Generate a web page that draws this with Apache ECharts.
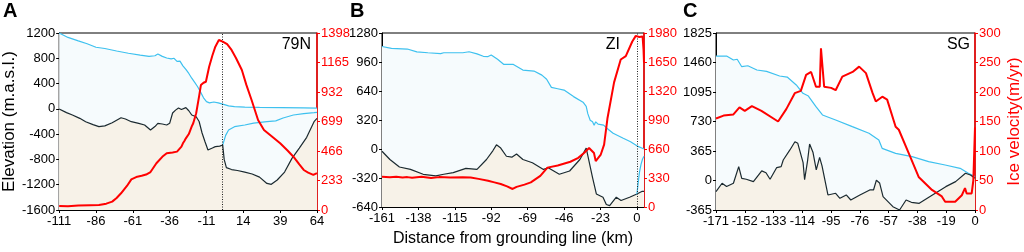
<!DOCTYPE html>
<html>
<head>
<meta charset="utf-8">
<script src="https://cdn.jsdelivr.net/npm/echarts@6/dist/echarts.min.js"></script>
<style>
  html, body { margin: 0; padding: 0; background: #fff; }
  #chart { width: 1024px; height: 252px; }
</style>
</head>
<body>
<div id="chart"></div>
<script>
// distance (km) / value pairs
const surfA = [[-111,1200],[-105,1130],[-98,1075],[-92,1030],[-86,975],[-80,955],[-72,915],[-64,880],[-56,850],[-50,830],[-46,840],[-44,868],[-41,830],[-38,805],[-35,790],[-33,800],[-31,750],[-29,755],[-27,680],[-25,625],[-23,560],[-21,485],[-19,420],[-17,350],[-15,265],[-13,175],[-11,115],[-9,95],[-6,108],[-3,95],[0,75],[4,48],[8,35],[15,28],[25,24],[40,20],[55,15],[64,12]];
const lowA = [[0,-572],[2,-420],[4,-335],[8,-282],[15,-255],[21,-225],[30,-203],[36,-190],[41,-145],[48,-97],[55,-75],[62,-60],[64,-55]];
const bedA = [[-111,-2],[-106,-60],[-102,-97],[-97,-150],[-93,-203],[-88,-250],[-84,-282],[-80,-270],[-75,-220],[-69,-140],[-66,-160],[-62,-203],[-57,-230],[-53,-255],[-49,-335],[-46,-280],[-44,-229],[-41,-240],[-38,-255],[-36,-229],[-34,-66],[-32,-20],[-30,13],[-28,-10],[-27,-18],[-25,20],[-23,-30],[-21,-97],[-18,-124],[-16,-200],[-14,-382],[-12,-520],[-10,-651],[-7,-620],[-5,-598],[-2,-590],[0,-572],[1,-800],[2.5,-930],[6,-960],[10,-975],[15,-1000],[20,-1030],[25,-1080],[30,-1180],[33,-1194],[37,-1125],[42,-1000],[47,-783],[52,-620],[57,-450],[62,-203],[64,-150]];
const velA = [[-111,32],[-105,30],[-98,35],[-90,38],[-84,40],[-79,50],[-75,66],[-72,95],[-69,132],[-65,190],[-62,242],[-58,263],[-55,270],[-52,280],[-49,300],[-45,369],[-41,420],[-38,448],[-34,455],[-31,461],[-28,500],[-27,527],[-26,545],[-25,566],[-23,600],[-21,660],[-20,685],[-18,764],[-16,900],[-14.8,987],[-13,1005],[-11.4,1013],[-9.2,1132],[-7,1220],[-5,1290],[-2.6,1343],[0,1330],[3,1310],[6,1264],[9,1200],[13,1106],[16,990],[19.6,869],[24,711],[28,632],[33,585],[39,527],[44,470],[48,421],[52,360],[55,316],[58,295],[61.5,277],[64,292]];

const surfB = [[-161,1131],[-155,1110],[-145,1103],[-139,1071],[-132,1062],[-124,1052],[-122,1062],[-110,1062],[-106,1073],[-101,1050],[-97,1023],[-94,1020],[-92,1037],[-88,990],[-84,933],[-78,933],[-72,871],[-65,860],[-60,815],[-57,770],[-54,680],[-50,665],[-46,650],[-40,578],[-34,517],[-32,470],[-31,390],[-29.5,318],[-28,300],[-27,263],[-26,300],[-24.5,275],[-21,263],[-18,215],[-15,173],[-8.6,118],[-4,80],[0,35],[4.5,0]];
const lowB = [[0,-500],[0.8,-380],[1.6,-260],[2.6,-170],[3.6,-110],[4.5,-80]];
const bedB = [[-161,-25],[-156,-116],[-150,-199],[-143,-225],[-135,-279],[-127,-297],[-122,-279],[-116,-260],[-108,-214],[-101,-225],[-95,-116],[-91,-20],[-88.7,46],[-86,10],[-82.4,-80],[-79,-90],[-76,-55],[-72,-116],[-66,-152],[-59,-225],[-56,-207],[-49,-279],[-42.5,-243],[-36,-116],[-32,10],[-31,-10],[-28,-315],[-25.6,-496],[-21.4,-532],[-19.3,-612],[-17.2,-625],[-13,-532],[-10,-568],[-4.6,-532],[0,-496],[3.4,-467],[4.5,-467]];
const velB = [[-161,343],[-156,338],[-152,345],[-148,336],[-145,340],[-142,332],[-136,343],[-130,330],[-125,340],[-118,336],[-110,338],[-105,336],[-100,320],[-94,298],[-90,280],[-86,261],[-82,235],[-78.5,205],[-76,229],[-71,255],[-67,280],[-61,354],[-56.5,448],[-50,473],[-42,515],[-37,560],[-33.4,615],[-30.2,671],[-27.1,615],[-26,522],[-22.8,597],[-20.7,709],[-18.6,1007],[-14.4,1418],[-10.2,1678],[-7,1716],[-2.9,1883],[-0.7,1947],[1.5,1935],[3.6,1940],[4.2,1790],[4.5,1641]];

const surfC = [[-171,1540],[-164,1540],[-159.5,1491],[-157,1500],[-154,1408],[-150,1420],[-144,1367],[-137.6,1350],[-129,1293],[-124,1280],[-118,1182],[-113.6,1079],[-110,1045],[-105,913],[-100.7,811],[-92,749],[-81,666],[-70,584],[-63.5,501],[-61.3,398],[-52.4,336],[-41.5,295],[-30.6,233],[-19.7,192],[-9.8,151],[-4.4,89],[0,48]];
const bedC = [[-171,-138],[-167,-34],[-164,-75],[-159.5,-34],[-156,171],[-154,27],[-151,15],[-146.3,-14],[-140.8,119],[-138,96],[-135.3,15],[-130.9,160],[-128,171],[-126.6,254],[-122.2,378],[-118.9,480],[-117,460],[-113.5,221],[-112.5,10],[-110.5,250],[-109.2,452],[-107,350],[-104.8,131],[-102.6,287],[-101,180],[-97.1,-179],[-92,-158],[-89.2,-220],[-85,-179],[-82,-241],[-76,-179],[-69.5,-117],[-67,-117],[-65.1,4],[-63,-30],[-60.7,-200],[-54.2,-324],[-49.8,-365],[-45.5,-241],[-42,-270],[-36.8,-282],[-28.1,-179],[-19.3,-76],[-12.8,-14],[-6.3,89],[-3,68],[0,27]];
const velC = [[-171,155],[-166,160],[-159.5,162],[-155.5,174],[-152,168],[-147.3,176],[-141,168],[-130,150],[-124.6,171],[-119,198],[-115,202],[-111.5,229],[-108.2,234],[-105,209],[-102.5,209],[-101.7,274],[-100.6,240],[-99.6,209],[-95,207],[-92,203],[-87.6,226],[-80.8,234],[-76.5,243],[-72,232],[-67.6,198],[-65.5,184],[-61.2,192],[-58,187],[-52.4,141],[-50.3,136],[-43.7,96],[-37.2,56],[-28.4,34],[-21.9,23],[-19.7,14],[-13.1,14],[-8.7,25],[-6.6,37],[-5.5,28],[-2.2,28],[-1.1,50],[0,140]];

const xTicksB = [-161, -138, -115, -92, -69, -46, -23, 0];

const FONT = "'Liberation Sans', Arial, sans-serif";
const RED = "#ff0000";
const BLUE = "#3ec1ef";
const DARK = "#1b2a30";
const plain = v => String(v);

const grids = [
  { left: 53, top: 33, width: 264, height: 177 },
  { left: 382, top: 33, width: 262, height: 177 },
  { left: 716, top: 33, width: 261, height: 177 },
].map(g => ({ ...g, show: true, borderColor: "#000", borderWidth: 1, backgroundColor: "transparent" }));

function xAxis(gi, min, max, interval, extra) {
  return Object.assign({
    gridIndex: gi, type: "value", min, max, interval,
    axisLine: { onZero: false, lineStyle: { color: "#000", width: 1 } },
    axisTick: { length: 3, lineStyle: { color: "#000" } },
    axisLabel: { color: "#000", fontSize: 13, margin: 5, fontFamily: FONT, formatter: plain },
    splitLine: { show: false },
  }, extra);
}

function yAxis(gi, right, min, max, interval, extra) {
  const c = right ? RED : "#000";
  return Object.assign({
    gridIndex: gi, type: "value", position: right ? "right" : "left", min, max, interval,
    axisLine: { show: true, onZero: false, lineStyle: { color: c, width: right ? 1.5 : 1 } },
    axisTick: { show: true, length: 3, lineStyle: { color: c } },
    axisLabel: { color: c, fontSize: 13, margin: 4, fontFamily: FONT, formatter: plain },
    splitLine: { show: false },
  }, extra);
}

const dotted = {
  silent: true, symbol: ["none", "none"], label: { show: false },
  lineStyle: { type: [1, 1.5], color: "#222", width: 1 },
  data: [{ xAxis: 0 }],
};

function panel(gi, surf, bed, low, vel, mark) {
  const out = [
    { type: "line", xAxisIndex: gi, yAxisIndex: gi * 2, data: surf, showSymbol: false,
      lineStyle: { color: BLUE, width: 1.2 }, areaStyle: { color: "#f6fbfd", origin: "start", opacity: 1 } },
    { type: "line", xAxisIndex: gi, yAxisIndex: gi * 2, data: bed, showSymbol: false,
      lineStyle: { color: DARK, width: 1.2 }, areaStyle: { color: "#f7f2e8", origin: "start", opacity: 1 } },
  ];
  if (low) out.push({ type: "line", xAxisIndex: gi, yAxisIndex: gi * 2, data: low, showSymbol: false,
    lineStyle: { color: BLUE, width: 1.2 } });
  out.push({ type: "line", xAxisIndex: gi, yAxisIndex: gi * 2 + 1, data: vel, showSymbol: false,
    lineStyle: { color: RED, width: 2 }, z: 5, markLine: mark ? dotted : undefined });
  return out;
}

const chart = echarts.init(document.getElementById("chart"), null, { renderer: "canvas" });
chart.setOption({
  animation: false,
  textStyle: { fontFamily: FONT },
  grid: grids,
  xAxis: [
    xAxis(0, -111, 64, 25),
    xAxis(1, -161, 4.5, 23, {
      name: "Distance from grounding line (km)", nameLocation: "middle", nameGap: 24,
      nameTextStyle: { fontSize: 16, color: "#000", fontFamily: FONT },
      axisTick: { length: 3, lineStyle: { color: "#000" }, customValues: xTicksB },
      axisLabel: { color: "#000", fontSize: 13, margin: 5, fontFamily: FONT, formatter: plain, customValues: xTicksB },
    }),
    xAxis(2, -171, 0, 19),
  ],
  yAxis: [
    yAxis(0, false, -1600, 1200, 400, {
      name: "Elevation (m.a.s.l.)", nameLocation: "middle", nameGap: 36, nameRotate: 90,
      nameTextStyle: { fontSize: 17, color: "#000", fontFamily: FONT },
    }),
    yAxis(0, true, 0, 1398, 233),
    yAxis(1, false, -640, 1280, 320),
    yAxis(1, true, 0, 1980, 330),
    yAxis(2, false, -365, 1825, 365),
    yAxis(2, true, 0, 300, 50, {
      name: "Ice velocity(m/yr)", nameLocation: "middle", nameGap: 31, nameRotate: 90,
      nameTextStyle: { fontSize: 17, color: RED, fontFamily: FONT },
    }),
  ],
  series: [
    ...panel(0, surfA, bedA, lowA, velA, true),
    ...panel(1, surfB, bedB, lowB, velB, true),
    ...panel(2, surfC, bedC, null, velC, false),
  ],
  graphic: [
    { type: "text", left: 3, top: 1, style: { text: "A", font: "bold 20px " + FONT, fill: "#000" } },
    { type: "text", left: 350, top: 1, style: { text: "B", font: "bold 20px " + FONT, fill: "#000" } },
    { type: "text", left: 683, top: 1, style: { text: "C", font: "bold 20px " + FONT, fill: "#000" } },
    { type: "text", right: 1024 - 311, top: 37, style: { text: "79N", font: "16px " + FONT, fill: "#000" } },
    { type: "text", right: 1024 - 620, top: 37, style: { text: "ZI", font: "16px " + FONT, fill: "#000" } },
    { type: "text", right: 1024 - 970, top: 37, style: { text: "SG", font: "16px " + FONT, fill: "#000" } },
  ],
});
</script>
</body>
</html>
